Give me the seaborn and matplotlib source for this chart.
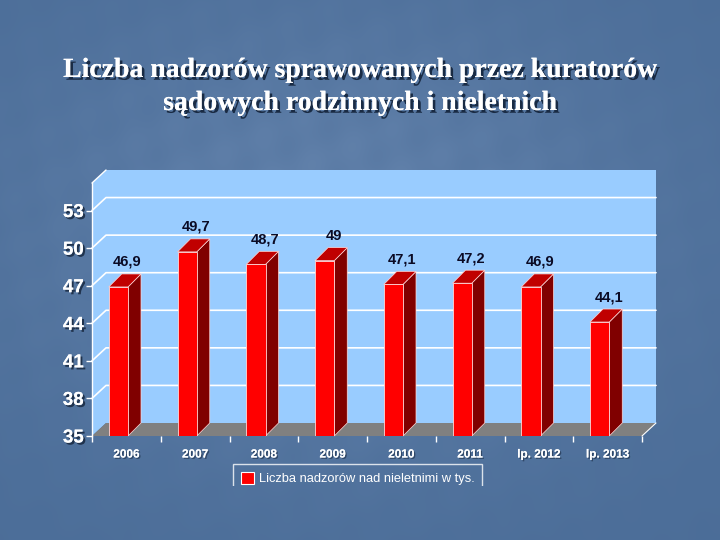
import numpy as np
import matplotlib
matplotlib.use("Agg")
import matplotlib.pyplot as plt
import matplotlib.patheffects as pe
from matplotlib.patches import Polygon, Patch
from matplotlib.transforms import Bbox, TransformedBbox
import seaborn as sns

# data
categories = ["2006", "2007", "2008", "2009", "2010", "2011", "lp. 2012", "lp. 2013"]
values = [46.9, 49.7, 48.7, 49.0, 47.1, 47.2, 46.9, 44.1]
value_labels = ["46,9", "49,7", "48,7", "49", "47,1", "47,2", "46,9", "44,1"]
y_ticks = [35, 38, 41, 44, 47, 50, 53]
series_name = "Liczba nadzorów nad nieletnimi w tys."
title_lines = ["Liczba nadzorów sprawowanych przez kuratorów",
               "sądowych rodzinnych i nieletnich"]

sns.set_theme(style="white")
plt.rcParams["font.family"] = ["Liberation Sans", "DejaVu Sans"]

W, H = 720, 540
fig = plt.figure(figsize=(7.2, 5.4), dpi=100)

# slide background (soft blue gradient)
bg = fig.add_axes([0, 0, 1, 1], zorder=-10)
yy, xx = np.mgrid[0:H, 0:W]
light = np.exp(-(((xx - 330) / 330.0) ** 2 + ((yy - 230) / 230.0) ** 2))
streak = 0.5 + 0.5 * np.sin((xx * 0.9 + yy * 0.45) / 9.0) * np.sin((xx - yy * 1.7) / 23.0)
base = np.array([0x4b, 0x6d, 0x98]) / 255.0
hi = np.array([0x6a, 0x89, 0xb2]) / 255.0
t = (0.55 * light + 0.2 * light * streak)[..., None]
img = base * (1 - t) + hi * t
bg.imshow(np.clip(img, 0, 1), aspect="auto", extent=[0, W, H, 0])
bg.set_axis_off()

# title with shadow
shadow = [pe.withSimplePatchShadow(offset=(2, -2), shadow_rgbFace="#13233a", alpha=0.9), pe.Normal()]
for line, yb in zip(title_lines, [77, 110]):
    fig.text(0.5, 1 - yb / H, line, ha="center", va="baseline", color="white",
             fontsize=20, fontweight="bold", family="Liberation Serif", path_effects=shadow)

# front plane of the chart
x0, x1, yb0, yt0 = 92, 642, 436, 183
ymin, ymax = 35, 55.2
ax = fig.add_axes([x0 / W, 1 - yb0 / H, (x1 - x0) / W, (yb0 - yt0) / H])
ax.set_facecolor("none")

sns.barplot(x=categories, y=values, color="#ff0000", width=0.28, saturation=1,
            edgecolor="#ffd8d8", linewidth=0.6, ax=ax, zorder=5)
ax.set_xlim(-0.5, len(categories) - 0.5)
ax.set_ylim(ymin, ymax)

px_x = (x1 - x0) / len(categories)
px_y = (yb0 - yt0) / (ymax - ymin)
wdx, wdy = 14 / px_x, 13 / px_y     # wall depth
bdx, bdy = 13 / px_x, 13 / px_y     # bar depth
shift = 8 / px_x

L, R = -0.5, len(categories) - 0.5
wall = "#99ccff"
ax.add_patch(Polygon([(L + wdx, ymin + wdy), (R + wdx, ymin + wdy), (R + wdx, ymax + wdy),
                      (L + wdx, ymax + wdy)], closed=True, fc=wall, ec="none", clip_on=False, zorder=0))
ax.add_patch(Polygon([(L, ymin), (L, ymax), (L + wdx, ymax + wdy), (L + wdx, ymin + wdy)],
                     closed=True, fc=wall, ec="none", clip_on=False, zorder=0))
ax.add_patch(Polygon([(L, ymin), (R, ymin), (R + wdx, ymin + wdy), (L + wdx, ymin + wdy)],
                     closed=True, fc="#808080", ec="none", clip_on=False, zorder=1))
ax.plot([R, R + wdx], [ymin, ymin + wdy], color="white", lw=0.8, clip_on=False, zorder=1)
ax.plot([L, L + wdx], [ymax, ymax + wdy], color="white", lw=1.0, clip_on=False, zorder=1)
for v in y_ticks[1:]:
    ax.plot([L, L + wdx, R + wdx], [v, v + wdy, v + wdy], color="white", lw=1.2,
            clip_on=False, zorder=0.5)

# 3D sides and tops of the bars
for bar, v, lab in zip(ax.patches, values, value_labels):
    bar.set_x(bar.get_x() - shift)
    bx0 = bar.get_x()
    bx1 = bx0 + bar.get_width()
    ax.add_patch(Polygon([(bx1, ymin), (bx1, v), (bx1 + bdx, v + bdy), (bx1 + bdx, ymin + bdy)],
                         closed=True, fc="#800000", ec="#ffd8d8", lw=0.5, clip_on=False, zorder=4))
    ax.add_patch(Polygon([(bx0, v), (bx1, v), (bx1 + bdx, v + bdy), (bx0 + bdx, v + bdy)],
                         closed=True, fc="#c00000", ec="#ffd8d8", lw=0.5, clip_on=False, zorder=4))
    ax.annotate(lab, xy=(bx0 + bar.get_width() / 2 + 9 / px_x, v + bdy), xytext=(0, 5),
                textcoords="offset pixels", ha="center", va="bottom", fontsize=10.5,
                fontweight="bold", color="#0a0a24", zorder=6)

# axes styling
for s in ["top", "right", "bottom"]:
    ax.spines[s].set_visible(False)
ax.spines["left"].set_color("white")
ax.spines["left"].set_linewidth(1.0)
ax.set_yticks(y_ticks)
ax.set_yticklabels([str(v) for v in y_ticks])
ax.tick_params(axis="y", colors="white", length=4, width=1, pad=2, labelsize=13.5, left=True)
ax.set_xticks(range(len(categories)))
ax.set_xticklabels(categories)
ax.set_xticks(np.arange(len(categories) + 1) - 0.5, minor=True)
ax.tick_params(axis="x", which="major", length=0, pad=9, labelsize=8.5, colors="white")
ax.tick_params(axis="x", which="minor", length=4, width=1, color="white", bottom=True)
ax.set_xlabel("")
ax.set_ylabel("")
lab_shadow = [pe.withSimplePatchShadow(offset=(1.5, -1.5), shadow_rgbFace="#1b2c44", alpha=0.9), pe.Normal()]
for t_ in ax.get_yticklabels():
    t_.set_fontweight("bold")
    t_.set_path_effects(lab_shadow)
for t_ in ax.get_xticklabels():
    t_.set_fontweight("bold")
    t_.set_path_effects([pe.withSimplePatchShadow(offset=(1, -1), shadow_rgbFace="#1b2c44", alpha=0.6), pe.Normal()])

# legend, cut at the bottom as on the slide
leg = fig.legend(handles=[Patch(facecolor="#ff0000", edgecolor="white", lw=0.8)], labels=[series_name],
                 loc="upper left", bbox_to_anchor=(233 / W, 1 - 464 / H), frameon=True, fancybox=False,
                 fontsize=9.3, handlelength=1.0, handleheight=1.1, handletextpad=0.4,
                 borderpad=0.6, borderaxespad=0)
leg.get_frame().set_facecolor("none")
leg.get_frame().set_edgecolor("white")
leg.get_frame().set_linewidth(1.0)
for txt in leg.get_texts():
    txt.set_color("white")
clip = TransformedBbox(Bbox([[0, 54 / H], [1, 1]]), fig.transFigure)
for a in leg.findobj():
    if a is leg:
        continue
    a.set_clip_on(True)
    a.set_clip_box(clip)

fig.savefig("out.png", dpi=100)
